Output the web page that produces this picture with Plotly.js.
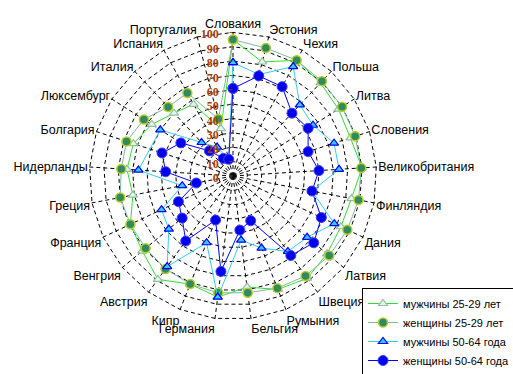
<!DOCTYPE html>
<html>
<head>
<meta charset="utf-8">
<script src="https://cdn.plot.ly/plotly-3.0.1.min.js"></script>
<style>html,body{margin:0;padding:0;background:#fff;}#chart{width:513px;height:374px;}</style>
</head>
<body>
<div id="chart"></div>
<script>
const categories = ['Словакия','Эстония','Чехия','Польша','Литва','Словения','Великобритания','Финляндия','Дания','Латвия','Швеция','Румыния','Бельгия','Германия','Кипр','Австрия','Венгрия','Франция','Греция','Нидерланды','Болгария','Люксембург','Италия','Испания','Португалия'];
const men2529   = [95, 82, 92, 89, 87, 86, 90, 84, 83, 85, 88, 85, 78, 85, 81, 89, 82, 79, 71, 74, 73, 67, 60, 57, 34];
const women2529 = [95, 92, 92, 90.5, 90, 89.5, 89.5, 89, 88, 87, 86, 84, 82, 82, 81, 80, 79, 79, 80, 78, 78, 73.5, 66, 66, 41];
const men5064   = [79, 73, 87, 68, 66, 74, 74, 56, 78, 67, 65, 54, 45, 85, 50, 78, 58, 55, 36, 66, null, 60, 32, 23, 12];
const women5064 = [61, 72, 71, 60, 62, 55, 60, 56, 68, 73, 68.5, 33.5, 38, 67, 33, 56, 46, 42, 26, 47, 52, 43, 24, 14, 12];
const seriesNames = ['мужчины 25-29 лет','женщины 25-29 лет','мужчины 50-64 года','женщины 50-64 года'];
const radialTicks = [0,10,20,30,40,50,60,70,80,90,100];

function closed(a){ return a.concat([a[0]]); }
const thetaC = closed(categories);

const traces = [
  {type:'scatterpolar', mode:'lines+markers', name:seriesNames[0], r:closed(men2529), theta:thetaC, connectgaps:true,
   line:{color:'#33dd33', width:1}, marker:{symbol:'triangle-up', size:8, color:'#e8f4ec', line:{color:'#8fc0a0', width:1.2}}},
  {type:'scatterpolar', mode:'lines+markers', name:seriesNames[1], r:closed(women2529), theta:thetaC, connectgaps:true,
   line:{color:'#80b898', width:1}, marker:{symbol:'circle', size:9, color:'#2e8b60', line:{color:'#b8cc30', width:1.5}}},
  {type:'scatterpolar', mode:'lines+markers', name:seriesNames[2], r:closed(men5064), theta:thetaC, connectgaps:true,
   line:{color:'#33ccf5', width:1}, marker:{symbol:'triangle-up', size:8, color:'#33ccff', line:{color:'#0000ff', width:1.2}}},
  {type:'scatterpolar', mode:'lines+markers', name:seriesNames[3], r:closed(women5064), theta:thetaC, connectgaps:true,
   line:{color:'#0000ff', width:1}, marker:{symbol:'circle', size:10, color:'#0000ee', line:{color:'#4040ff', width:1}}},
  {type:'scatterpolar', mode:'markers', showlegend:false, hoverinfo:'skip', r:[0], theta:[categories[0]],
   marker:{symbol:'square', size:5, color:'#000'}}
];

const layout = {
  width:513, height:374,
  margin:{l:87.6, r:134.6, t:30.6, b:52.6, autoexpand:false},
  paper_bgcolor:'#fff', plot_bgcolor:'#fff',
  showlegend:true,
  legend:{xref:'container', yref:'container', x:362/513, y:1-288/374, xanchor:'left', yanchor:'top',
    bordercolor:'#000', borderwidth:1, bgcolor:'#fff', font:{family:'Liberation Sans, Arial, sans-serif', size:11, color:'#000'},
    tracegroupgap:0, itemwidth:30},
  polar:{
    domain:{x:[0,1], y:[0,1]},
    bgcolor:'#fff',
    gridshape:'linear',
    radialaxis:{range:[0,101], tickvals:radialTicks, ticktext:radialTicks.map(String), angle:90, side:'counterclockwise',
      showline:false, ticks:'outside', ticklen:3, tickcolor:'#a04010',
      gridcolor:'#000', gridwidth:1, griddash:'4px,3px',
      tickfont:{family:'Liberation Serif, Times New Roman, serif', size:12, color:'#a83c08', weight:'bold'}},
    angularaxis:{direction:'clockwise', rotation:90, type:'category',
      showline:false,
      gridcolor:'#000', gridwidth:1, griddash:'4px,3px', ticks:'',
      tickfont:{family:'Liberation Sans, Arial, sans-serif', size:12.5, color:'#000'}}
  }
};

Plotly.newPlot('chart', traces, layout, {displayModeBar:false, staticPlot:true});
</script>
</body>
</html>
